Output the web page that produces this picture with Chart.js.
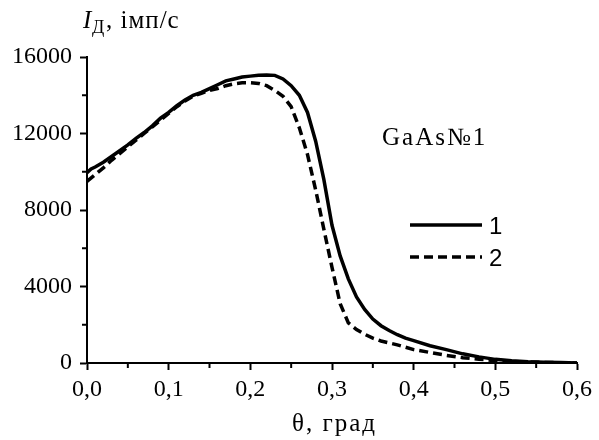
<!DOCTYPE html>
<html>
<head>
<meta charset="utf-8">
<script src="https://cdn.jsdelivr.net/npm/chart.js@4.4.0/dist/chart.umd.min.js"></script>
<style>
  html, body { margin: 0; padding: 0; background: #fff; }
  #wrap { width: 599px; height: 440px; }
</style>
</head>
<body>
<div id="wrap"><canvas id="chart" width="599" height="440"></canvas></div>
<script>
// curve 1 (solid)
var theta1 = [0, 0.005, 0.01, 0.02, 0.03, 0.04, 0.05, 0.06, 0.07, 0.08, 0.09, 0.10, 0.11, 0.12, 0.13, 0.14,
  0.15, 0.16, 0.17, 0.18, 0.19, 0.20, 0.21, 0.22, 0.23, 0.24, 0.25, 0.26, 0.27, 0.28, 0.29, 0.30, 0.31,
  0.32, 0.33, 0.34, 0.35, 0.36, 0.37, 0.38, 0.39, 0.40, 0.42, 0.44, 0.46, 0.48, 0.50, 0.52, 0.54, 0.56,
  0.58, 0.60];
var int1 = [9950, 10150, 10250, 10500, 10800, 11100, 11400, 11750, 12050, 12400, 12800, 13100, 13450, 13750,
  14000, 14150, 14350, 14550, 14750, 14850, 14950, 15000, 15050, 15060, 15040, 14850, 14500, 14000, 13100,
  11600, 9600, 7200, 5600, 4400, 3450, 2800, 2300, 1950, 1700, 1480, 1300, 1170, 900, 700, 480, 320, 190,
  120, 70, 40, 20, 0];

// curve 2 (dashed)
var theta2 = [0, 0.01, 0.02, 0.03, 0.04, 0.05, 0.06, 0.07, 0.08, 0.09, 0.10, 0.11, 0.12, 0.13, 0.14, 0.15,
  0.16, 0.17, 0.18, 0.19, 0.20, 0.21, 0.22, 0.23, 0.24, 0.25, 0.26, 0.27, 0.28, 0.29, 0.30, 0.31, 0.32,
  0.33, 0.34, 0.35, 0.36, 0.38, 0.40, 0.42, 0.44, 0.46, 0.48, 0.50, 0.52, 0.54, 0.56, 0.58, 0.60];
var int2 = [9500, 9850, 10200, 10600, 10950, 11300, 11650, 12000, 12350, 12700, 13050, 13400, 13700, 13950,
  14100, 14250, 14350, 14500, 14600, 14650, 14650, 14620, 14500, 14250, 13950, 13400, 12300, 10900, 9050,
  7000, 5000, 3100, 2100, 1750, 1500, 1300, 1150, 950, 700, 550, 400, 280, 200, 120, 80, 50, 30, 15, 0];

var xMinor = [0.05, 0.15, 0.25, 0.35, 0.45, 0.55];
var yMinor = [2000, 6000, 10000, 14000];
var legendLabels = ["1", "2"];

function pts(xs, ys) {
    return xs.map(function (x, i) { return { x: x, y: ys[i] }; });
}

var serif = "'Liberation Serif', 'Times New Roman', serif";
var sans = "'Liberation Sans', Arial, sans-serif";

// minor ticks, axis titles, label and legend
var annot = {
    id: "annot",
    afterDraw: function (chart) {
        var ctx = chart.ctx;
        var xs = chart.scales.x, ys = chart.scales.y;
        var area = chart.chartArea;
        ctx.save();
        ctx.strokeStyle = "#000";
        ctx.lineWidth = 2;
        ctx.setLineDash([]);
        xMinor.forEach(function (v) {
            var px = xs.getPixelForValue(v);
            ctx.beginPath();
            ctx.moveTo(px, area.bottom);
            ctx.lineTo(px, area.bottom + 5);
            ctx.stroke();
        });
        yMinor.forEach(function (v) {
            var py = ys.getPixelForValue(v);
            ctx.beginPath();
            ctx.moveTo(area.left, py);
            ctx.lineTo(area.left - 5, py);
            ctx.stroke();
        });

        ctx.fillStyle = "#000";
        ctx.textBaseline = "alphabetic";
        ctx.textAlign = "left";
        // y title
        ctx.font = "italic 25px " + serif;
        ctx.fillText("I", 83, 28);
        ctx.font = "18px " + serif;
        ctx.fillText("Д", 92, 33);
        ctx.font = "25px " + serif;
        ctx.letterSpacing = "1px";
        ctx.fillText(", імп/с", 106, 28);
        // x title
        ctx.letterSpacing = "2px";
        ctx.fillText("θ, град", 292, 431);
        // sample label
        ctx.fillText("GaAs№1", 382, 145);
        ctx.letterSpacing = "0px";

        // legend
        var ds = chart.data.datasets;
        var rows = [225, 257];
        ds.forEach(function (d, i) {
            ctx.lineWidth = d.borderWidth;
            ctx.setLineDash(d.borderDash || []);
            ctx.beginPath();
            ctx.moveTo(410, rows[i]);
            ctx.lineTo(482, rows[i]);
            ctx.stroke();
            ctx.setLineDash([]);
            ctx.font = "24px " + sans;
            ctx.textBaseline = "middle";
            ctx.fillText(legendLabels[i], 489, rows[i] + 2);
        });
        ctx.restore();
    }
};

new Chart(document.getElementById("chart"), {
    type: "line",
    data: {
        datasets: [{
            label: legendLabels[0],
            data: pts(theta1, int1),
            borderColor: "#000",
            borderWidth: 3.5,
            pointRadius: 0,
            tension: 0,
            fill: false
        }, {
            label: legendLabels[1],
            data: pts(theta2, int2),
            borderColor: "#000",
            borderWidth: 3.5,
            borderDash: [9, 5],
            pointRadius: 0,
            tension: 0,
            fill: false
        }]
    },
    options: {
        responsive: false,
        animation: false,
        layout: { padding: { left: 0, right: 22, top: 57, bottom: 0 } },
        plugins: {
            legend: { display: false },
            tooltip: { enabled: false }
        },
        scales: {
            x: {
                type: "linear",
                min: 0,
                max: 0.6,
                ticks: {
                    stepSize: 0.1,
                    color: "#000",
                    padding: 5,
                    maxRotation: 0,
                    font: { family: serif, size: 24 },
                    callback: function (v) { return v.toFixed(1).replace(".", ","); }
                },
                grid: { drawOnChartArea: false, drawTicks: true, tickLength: 7, tickWidth: 2, tickColor: "#000" },
                border: { display: true, color: "#000", width: 2 },
                afterFit: function (s) { s.height = 77; }
            },
            y: {
                min: 0,
                max: 16000,
                ticks: {
                    stepSize: 4000,
                    color: "#000",
                    padding: 8,
                    font: { family: serif, size: 24 },
                    callback: function (v) { return String(v); }
                },
                grid: { drawOnChartArea: false, drawTicks: true, tickLength: 7, tickWidth: 2, tickColor: "#000" },
                border: { display: true, color: "#000", width: 2 },
                afterFit: function (s) { s.width = 87; }
            }
        }
    },
    plugins: [annot]
});
</script>
</body>
</html>
